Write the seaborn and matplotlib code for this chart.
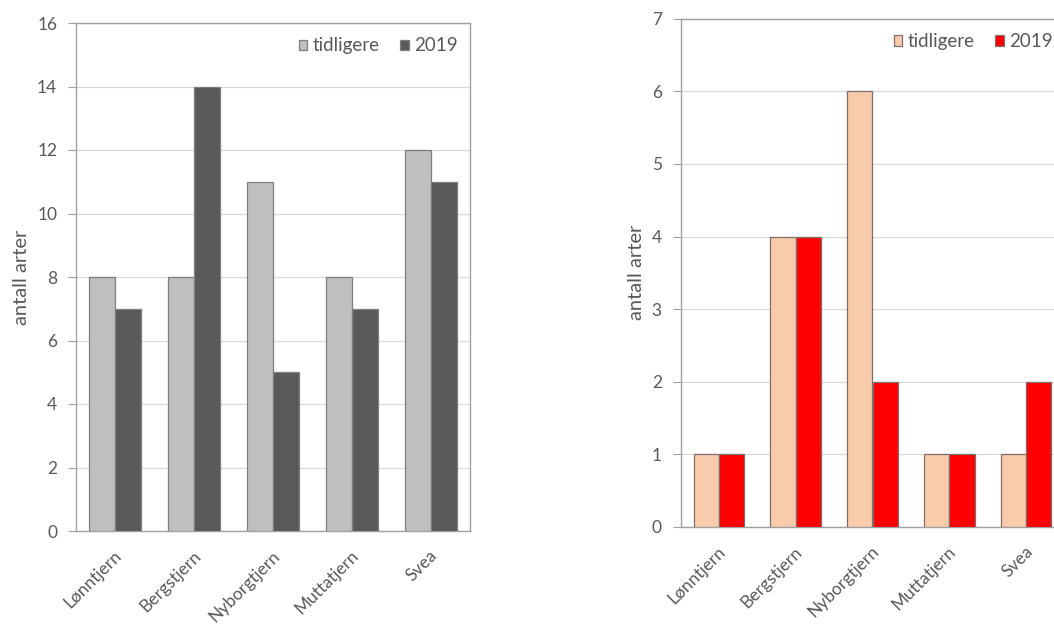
import matplotlib
matplotlib.use("Agg")
import matplotlib.pyplot as plt
import matplotlib.transforms as mtransforms
import seaborn as sns
import pandas as pd

# ---- data ----
lakes = ["Lønntjern", "Bergstjern", "Nyborgtjern", "Muttatjern", "Svea"]
series = ["tidligere", "2019"]
left_tidligere = [8, 8, 11, 8, 12]
left_2019 = [7, 14, 5, 7, 11]
right_tidligere = [1, 4, 6, 1, 1]
right_2019 = [1, 4, 2, 1, 2]
left_yticks = [0, 2, 4, 6, 8, 10, 12, 14, 16]
right_yticks = [0, 1, 2, 3, 4, 5, 6, 7]
ylabel = "antall arter"

sns.set_theme(style="white")
plt.rcParams["font.family"] = ["Lato", "DejaVu Sans"]

TXT = "#595959"
GRID = "#d9d9d9"
SPINE = "#a0a0a0"


def make_df(a, b):
    rows = []
    for lake, v in zip(lakes, a):
        rows.append({"lake": lake, "periode": series[0], "antall": v})
    for lake, v in zip(lakes, b):
        rows.append({"lake": lake, "periode": series[1], "antall": v})
    return pd.DataFrame(rows)


fig = plt.figure(figsize=(10.54, 6.26), dpi=100)
W, H = 1054, 626

ax1 = fig.add_axes([76 / W, 1 - 531 / H, 394 / W, 508 / H])
ax2 = fig.add_axes([680.6 / W, 1 - 526.8 / H, 383.8 / W, 508 / H])


def style(ax, df, colors, edge, yticks):
    sns.barplot(data=df, x="lake", y="antall", hue="periode", order=lakes,
                hue_order=series, palette=colors, saturation=1, width=0.66, gap=0,
                edgecolor=edge, linewidth=0.9, ax=ax, zorder=3)
    ax.set_ylim(yticks[0], yticks[-1])
    ax.set_yticks(yticks)
    ax.set_xlim(-0.5, len(lakes) - 0.5)
    ax.yaxis.grid(True, color=GRID, linewidth=0.9, zorder=0)
    ax.set_axisbelow(True)
    for s in ax.spines.values():
        s.set_color(SPINE)
        s.set_linewidth(1.0)
    ax.tick_params(axis="y", direction="out", length=5.5, width=0.8,
                   color=SPINE, pad=8, labelsize=12.5, labelcolor=TXT, left=True)
    ax.tick_params(axis="x", length=0, pad=16, labelsize=12.5, labelcolor=TXT)
    offset = mtransforms.ScaledTranslation(4 / 100, 0, fig.dpi_scale_trans)
    for lab in ax.get_xticklabels():
        lab.set_rotation(45)
        lab.set_rotation_mode("anchor")
        lab.set_ha("right")
        lab.set_va("center")
        lab.set_transform(lab.get_transform() + offset)
    ax.set_xlabel("")
    ax.set_ylabel(ylabel, fontsize=14.5, color=TXT, labelpad=5)
    handles, labels = ax.get_legend_handles_labels()
    ax.legend(handles, labels, loc="center right", bbox_to_anchor=(0.97, 0.955),
              ncol=2, frameon=False, fontsize=13.5, labelcolor=TXT,
              handlelength=0.45, handleheight=0.45, handletextpad=0.3,
              columnspacing=1.1, borderpad=0, borderaxespad=0)


style(ax1, make_df(left_tidligere, left_2019), ["#bfbfbf", "#595959"], "#7f7f7f", left_yticks)
style(ax2, make_df(right_tidligere, right_2019), ["#f8cbad", "#ff0000"], "#7f6f6a", right_yticks)

fig.savefig("out.png", dpi=100)
